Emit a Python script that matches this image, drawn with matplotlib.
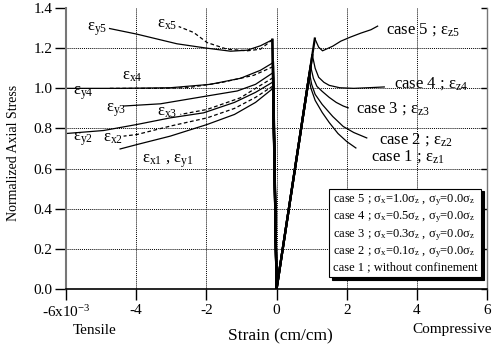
import matplotlib
matplotlib.use("Agg")
import matplotlib.pyplot as plt
from matplotlib.lines import Line2D, TICKLEFT

plt.rcParams['font.family'] = ['Liberation Serif', 'DejaVu Serif']
plt.rcParams['mathtext.fontset'] = 'custom'
plt.rcParams['mathtext.rm'] = 'Liberation Serif'
plt.rcParams['mathtext.it'] = 'Liberation Serif:italic'
plt.rcParams['mathtext.bf'] = 'Liberation Serif:bold'

# ---- data (strain in 1e-3, normalized stress) ----
# compressive side (z strain), cases 5..1
c5_x = [0, 1.09, 1.2, 1.31, 1.6, 1.83, 2.1, 2.4, 2.69, 2.88]
c5_y = [0, 1.248, 1.205, 1.187, 1.21, 1.235, 1.255, 1.275, 1.292, 1.31]
c4_x = [0, 1.02, 1.1, 1.2, 1.35, 1.5, 1.8, 2.2, 2.6, 3.07]
c4_y = [0, 1.165, 1.10, 1.055, 1.03, 1.015, 1.003, 1.0, 1.003, 1.007]
c3_x = [0, 0.97, 1.05, 1.15, 1.3, 1.5, 1.7, 1.9, 2.04]
c3_y = [0, 1.11, 1.05, 1.01, 0.985, 0.955, 0.93, 0.912, 0.903]
c2_x = [0, 0.94, 1.0, 1.1, 1.3, 1.6, 1.9, 2.2, 2.57]
c2_y = [0, 1.075, 1.02, 0.97, 0.92, 0.86, 0.81, 0.78, 0.753]
c1_x = [0, 0.92, 0.98, 1.1, 1.3, 1.5, 1.75, 2.0, 2.26]
c1_y = [0, 1.05, 1.0, 0.94, 0.88, 0.83, 0.775, 0.735, 0.703]

# tensile side: y strains (solid) and x strains (dashed)
y5_x = [0, -0.12, -0.46, -0.84, -1.31, -1.98, -2.84, -3.98, -4.76]
y5_y = [0, 1.242, 1.212, 1.19, 1.185, 1.2, 1.222, 1.27, 1.298]
x5_x = [0, -0.12, -0.46, -0.84, -1.41, -1.98, -2.36, -2.79]
x5_y = [0, 1.242, 1.195, 1.187, 1.195, 1.228, 1.278, 1.308]
y4_x = [0, -0.1, -0.46, -1.03, -1.89, -3.03, -4.5, -6.0]
y4_y = [0, 1.128, 1.09, 1.05, 1.02, 1.003, 1.0, 1.0]
x4_x = [0, -0.1, -0.65, -1.6, -2.55, -3.5, -4.79]
x4_y = [0, 1.108, 1.065, 1.028, 1.003, 1.0, 1.0]
y3_x = [0, -0.1, -0.6, -1.12, -1.98, -3.31, -4.36]
y3_y = [0, 1.078, 1.02, 0.987, 0.962, 0.923, 0.912]
x3_x = [0, -0.1, -0.6, -1.03, -1.98, -2.74]
x3_y = [0, 1.053, 1.0, 0.953, 0.895, 0.87]
y2_x = [0, -0.1, -0.6, -1.2, -2.08, -3.03, -3.98, -4.93, -6.0]
y2_y = [0, 1.032, 0.98, 0.93, 0.878, 0.853, 0.82, 0.79, 0.775]
x2_x = [0, -0.1, -0.6, -1.2, -1.98, -3.03, -3.98, -4.36]
x2_y = [0, 1.012, 0.955, 0.9, 0.853, 0.812, 0.77, 0.762]
e1_x = [0, -0.1, -0.6, -1.2, -1.98, -3.03, -3.98, -4.46]
e1_y = [0, 1.0, 0.93, 0.87, 0.82, 0.762, 0.72, 0.698]

xticks = [-6, -4, -2, 0, 2, 4, 6]
xticklabels = ['-6x10$^{-3}$', '-4', '-2', '0', '2', '4', '6']
yticks = [0.0, 0.2, 0.4, 0.6, 0.8, 1.0, 1.2, 1.4]
yticklabels = ['0.0', '0.2', '0.4', '0.6', '0.8', '1.0', '1.2', '1.4']

legend_labels = [
    'case 5 ; σ$_{\\mathrm{x}}$=1.0σ$_{\\mathrm{z}}$ , σ$_{\\mathrm{y}}$=0.0σ$_{\\mathrm{z}}$',
    'case 4 ; σ$_{\\mathrm{x}}$=0.5σ$_{\\mathrm{z}}$ , σ$_{\\mathrm{y}}$=0.0σ$_{\\mathrm{z}}$',
    'case 3 ; σ$_{\\mathrm{x}}$=0.3σ$_{\\mathrm{z}}$ , σ$_{\\mathrm{y}}$=0.0σ$_{\\mathrm{z}}$',
    'case 2 ; σ$_{\\mathrm{x}}$=0.1σ$_{\\mathrm{z}}$ , σ$_{\\mathrm{y}}$=0.0σ$_{\\mathrm{z}}$',
    'case 1 ; without confinement',
]

fig = plt.figure(figsize=(4.93, 3.5), dpi=100)
ax = fig.add_axes([0.134, 0.174, 0.854, 0.803])
ax.set_xlim(-6, 6)
ax.set_ylim(0, 1.4)

# grid
for gx in xticks[1:-1]:
    ax.axvline(gx, color='black', lw=0.7, ls=(0, (1, 1)), zorder=0)
for gy in yticks[1:-1]:
    ax.axhline(gy, color='black', lw=0.7, ls=(0, (1, 1)), zorder=0)

dash = (0, (3, 2))
solid_sets = [(c5_x, c5_y), (c4_x, c4_y), (c3_x, c3_y), (c2_x, c2_y), (c1_x, c1_y),
              (y5_x, y5_y), (y4_x, y4_y), (y3_x, y3_y), (y2_x, y2_y), (e1_x, e1_y)]
dashed_sets = [(x5_x, x5_y), (x4_x, x4_y), (x3_x, x3_y), (x2_x, x2_y)]
for xs, ys in solid_sets:
    ax.plot(xs[1:], ys[1:], color='black', lw=0.9)
    ax.plot(xs[:2], ys[:2], color='black', lw=1.6)
for xs, ys in dashed_sets:
    ax.plot(xs[1:], ys[1:], color='black', lw=0.9, ls=dash)
    ax.plot(xs[:2], ys[:2], color='black', lw=1.6)

# curve labels
fs = 12
labels = [
    (-5.4, 1.295, 'ε$_{\\mathrm{y5}}$'), (-3.4, 1.32, 'ε$_{\\mathrm{x5}}$'),
    (-4.4, 1.06, 'ε$_{\\mathrm{x4}}$'), (-5.8, 0.975, 'ε$_{\\mathrm{y4}}$'),
    (-4.86, 0.89, 'ε$_{\\mathrm{y3}}$'), (-3.4, 0.88, 'ε$_{\\mathrm{x3}}$'),
    (-5.8, 0.745, 'ε$_{\\mathrm{y2}}$'), (-4.94, 0.755, 'ε$_{\\mathrm{x2}}$'),
    (-3.83, 0.635, 'ε$_{\\mathrm{x1}}$ , ε$_{\\mathrm{y1}}$'),
    (3.11, 1.295, 'case 5 ; ε$_{\\mathrm{z5}}$'), (3.34, 1.025, 'case 4 ; ε$_{\\mathrm{z4}}$'),
    (2.26, 0.9, 'case 3 ; ε$_{\\mathrm{z3}}$'), (2.91, 0.745, 'case 2 ; ε$_{\\mathrm{z2}}$'),
    (2.69, 0.66, 'case 1 ; ε$_{\\mathrm{z1}}$'),
]
for lx, ly, s in labels:
    ax.text(lx, ly, s, fontsize=fs, ha='left', va='center')

# legend
handles = [Line2D([], [], lw=0) for _ in legend_labels]
leg = ax.legend(handles, legend_labels, loc='lower right', bbox_to_anchor=(0.986, 0.043),
                borderaxespad=0, handlelength=0, handletextpad=0, fontsize=9,
                frameon=True, fancybox=False, shadow={'color': 'black', 'alpha': 1},
                labelspacing=0.12, borderpad=0.3, framealpha=1)
leg.get_frame().set_edgecolor('black')
leg.get_frame().set_linewidth(0.8)

# spines and ticks
ax.spines['top'].set_visible(False)
ax.spines['left'].set_color('#777777')
ax.spines['left'].set_linewidth(1.5)
ax.spines['right'].set_color('#777777')
ax.spines['right'].set_linewidth(1.0)
ax.spines['bottom'].set_color('black')
ax.spines['bottom'].set_linewidth(1.2)

ax.set_xticks(xticks)
ax.set_xticklabels(xticklabels)
ax.set_yticks(yticks)
ax.set_yticklabels(yticklabels)
ax.tick_params(axis='x', direction='out', length=8, width=1, labelsize=11, pad=3)
ax.tick_params(axis='y', direction='out', length=8, width=1, labelsize=11, pad=2,
               right=True, color='black')
for t in ax.yaxis.get_major_ticks():
    t.tick2line.set_marker(TICKLEFT)
    t.tick2line.set_markersize(4)

fig.text(14 / 493, 1 - 153 / 350, 'Normalized Axial Stress', fontsize=10,
         rotation=90, ha='center', va='center')
fig.text(280 / 493, 1 - 336 / 350, 'Strain (cm/cm)', fontsize=12.5,
         ha='center', va='center')
fig.text(95 / 493, 1 - 331 / 350, 'Tensile', fontsize=11, ha='center', va='center')
fig.text(452 / 493, 1 - 330 / 350, 'Compressive', fontsize=11, ha='center', va='center')

fig.savefig('out.png', dpi=100)
